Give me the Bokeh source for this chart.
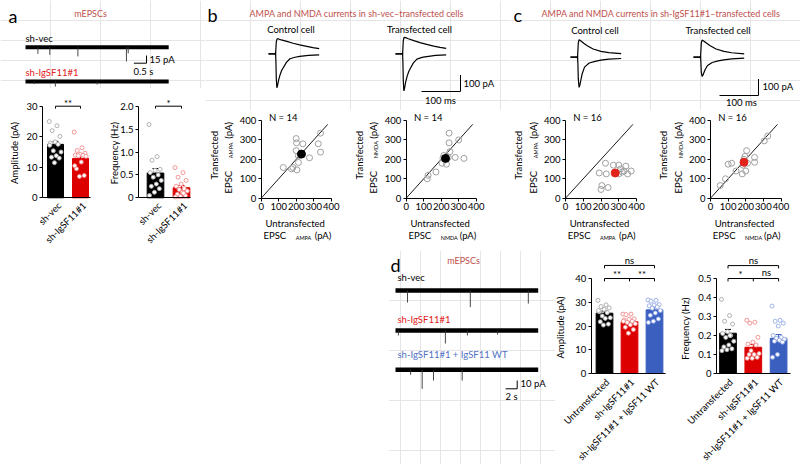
import math
from bokeh.plotting import figure
from bokeh.models import Range1d, Label, FixedTicker, Spacer, PrintfTickFormatter
from bokeh.layouts import row, column
from bokeh.embed import file_html
from bokeh.resources import INLINE

FONT = "Lato"
TITLE_RED = "#c0504d"
LABEL_RED = "#e3201b"
LABEL_BLUE = "#4f72c4"
BAR_COLORS = ["#000000", "#dd0000", "#3a5fbf"]
PT_COLORS = ["#a8a8a8", "#f28b8b", "#94aae6"]
SC_GRAY = "#a0a0a0"

# ======================= DATA =======================
# --- a: example mEPSC traces (event time s, event amplitude pA)
a_trace_len_s = 5.66
a_vec_event_t = [0.49, 0.96, 2.07, 3.99, 4.06]
a_vec_event_pa = [13, 15, 18, 28, 12]
a_sh_event_t = [0.35, 1.18, 2.83]
a_sh_event_pa = [5, 10, 6]
a_scale_s = 0.5
a_scale_pa = 15

# --- a: bar charts
a_groups = ["sh-vec", "sh-IgSF11#1"]
a_amp_mean = [17.5, 12.9]
a_amp_sem = [1.0, 0.9]
a_amp_vec = [25.0, 23.6, 22.0, 20.1, 18.3, 17.9, 17.5, 15.4, 15.0, 13.8, 13.3, 13.0, 11.5, 17.2]
a_amp_sh = [21.5, 16.4, 15.5, 14.6, 14.2, 14.0, 13.9, 13.8, 13.6, 11.7, 9.5, 7.3, 7.0, 10.5]
a_freq_mean = [0.54, 0.22]
a_freq_sem = [0.10, 0.05]
a_freq_vec = [1.6, 0.9, 0.82, 0.62, 0.6, 0.55, 0.5, 0.45, 0.38, 0.3, 0.25, 0.2, 0.12, 0.05]
a_freq_sh = [0.66, 0.55, 0.45, 0.38, 0.3, 0.25, 0.2, 0.18, 0.15, 0.12, 0.08, 0.05, 0.03, 0.02, 0.1]

# --- b/c: example EPSC traces (time ms, current pA)
ampa_t_b = [-18, -0.5, 0, 1, 2, 3.5, 5, 8, 12, 16, 21, 28, 37, 50, 62, 85, 112]
bC_ampa = [0, 0, 8, -40, -150, -206, -195, -160, -125, -100, -80, -52, -30, -21, -16, -10, -6]
bT_ampa = [0, 0, 8, -45, -165, -225, -212, -172, -135, -107, -85, -55, -32, -22, -17, -10, -6]
nmda_t_b = [-18, -0.5, 0, 1, 2, 4, 8, 15, 29, 45, 62, 80, 96, 112]
bC_nmda = [0, 0, -8, 30, 72, 91, 90, 84, 75, 64, 54, 45, 37, 31]
bT_nmda = [0, 0, -8, 33, 80, 100, 98, 91, 80, 68, 57, 47, 39, 33]
ampa_t_c = [-18, -0.5, 0, 1, 2, 4, 6, 12, 18, 30, 45, 60, 80, 112]
cC_ampa = [0, 0, 8, -40, -130, -183, -170, -100, -60, -35, -25, -18, -12, -8]
cT_ampa = [0, 0, 8, -30, -90, -116, -110, -75, -50, -32, -22, -16, -10, -6]
nmda_t_c = [-18, -0.5, 0, 1, 2, 4, 8, 16, 25, 40, 60, 80, 112]
cC_nmda = [0, 0, -8, 40, 85, 106, 100, 85, 70, 50, 35, 28, 22]
cT_nmda = [0, 0, -8, 40, 85, 104, 98, 84, 70, 50, 35, 27, 20]
epsc_scale_ms = 100
epsc_scale_pa = 100

# --- b/c: scatter (untransfected vs transfected, pA)
sc_ticks = [0, 100, 200, 300, 400]
b_ampa_x = [200, 202, 238, 339, 326, 339, 200, 276, 213, 213, 126, 173, 181, 204]
b_ampa_y = [307, 285, 280, 335, 280, 237, 245, 208, 184, 218, 158, 151, 158, 146]
b_ampa_mean = [230, 227]
b_ampa_sem = [14, 14]
b_nmda_x = [120, 125, 170, 205, 210, 215, 230, 240, 250, 245, 245, 280, 300, 330]
b_nmda_y = [100, 118, 135, 180, 205, 220, 175, 210, 240, 285, 335, 210, 300, 205]
b_nmda_mean = [225, 205]
b_nmda_sem = [14, 14]
c_ampa_x = [190, 200, 205, 225, 230, 240, 270, 280, 300, 310, 330, 340, 350, 370, 300, 320]
c_ampa_y = [130, 45, 65, 180, 125, 55, 170, 130, 170, 150, 140, 165, 125, 140, 125, 135]
c_ampa_mean = [280, 130]
c_ampa_sem = [12, 10]
c_nmda_x = [55, 85, 100, 120, 145, 180, 185, 190, 195, 200, 205, 210, 250, 250, 305, 325]
c_nmda_y = [65, 100, 175, 180, 140, 125, 170, 200, 215, 140, 245, 180, 210, 185, 295, 320]
c_nmda_mean = [190, 185]
c_nmda_sem = [12, 12]

# --- d: example traces
d_trace_len_s = 24.6
d_vec_event_t = [2.07, 12.9, 22.9]
d_vec_event_pa = [14.5, 20, 15.7]
d_sh_event_t = [0.5, 8.6, 12.4, 17.6]
d_sh_event_pa = [6, 15.7, 6, 5]
d_wt_event_t = [2.6, 4.6, 6.55, 11.5]
d_wt_event_pa = [6, 23, 13, 13]
d_scale_s = 2
d_scale_pa = 10

# --- d: bar charts
d_groups = ["Untransfected", "sh-IgSF11#1", "sh-IgSF11#1 + IgSF11 WT"]
d_amp_mean = [25.4, 21.8, 26.8]
d_amp_sem = [0.9, 0.6, 0.9]
d_amp_un = [30.8, 28.9, 28.2, 27.6, 27.0, 26.0, 25.6, 24.2, 23.5, 23.2, 21.8, 20.8, 20.4, 26.5]
d_amp_sh = [25.0, 25.0, 24.8, 23.0, 22.8, 22.5, 22.0, 21.5, 21.0, 20.5, 19.5, 18.5, 17.0, 22.0]
d_amp_wt = [31.0, 30.8, 30.5, 29.0, 28.8, 28.5, 28.0, 27.5, 26.5, 25.5, 24.5, 23.0, 22.0, 21.5]
d_freq_mean = [0.212, 0.138, 0.185]
d_freq_sem = [0.02, 0.015, 0.02]
d_freq_un = [0.39, 0.305, 0.275, 0.26, 0.22, 0.21, 0.2, 0.19, 0.17, 0.15, 0.14, 0.13, 0.125, 0.12, 0.2]
d_freq_sh = [0.28, 0.27, 0.265, 0.19, 0.165, 0.155, 0.15, 0.12, 0.105, 0.1, 0.1, 0.085, 0.08, 0.08]
d_freq_wt = [0.355, 0.28, 0.275, 0.265, 0.25, 0.2, 0.19, 0.185, 0.18, 0.175, 0.17, 0.165, 0.1, 0.085]


# ======================= HELPERS =======================
def base_fig(width, height, xr, yr, **kw):
    p = figure(width=width, height=height, x_range=xr, y_range=yr,
               toolbar_location=None, output_backend="svg", **kw)
    p.outline_line_color = None
    p.background_fill_color = "white"
    p.border_fill_color = "white"
    return p


def canvas(x0, x1, y0, y1):
    return base_fig(x1 - x0, y1 - y0, Range1d(x0, x1), Range1d(y1, y0),
                    x_axis_location=None, y_axis_location=None, min_border=0)


def chart(X0, X1, Y0, Y1, xpx, xval, xppu, ypx, yval, yppu):
    """Figure covering picture box [X0,X1]x[Y0,Y1]; data xval sits at picture x xpx, etc."""
    xr = Range1d(xval + (X0 - xpx) / xppu, xval + (X1 - xpx) / xppu)
    yr = Range1d(yval - (Y1 - ypx) / yppu, yval + (ypx - Y0) / yppu)
    p = base_fig(X1 - X0, Y1 - Y0, xr, yr, min_border=0)
    p.grid.visible = False

    def P(ix, iy):
        return xval + (ix - xpx) / xppu, yval + (ypx - iy) / yppu
    return p, P


def style_axes(p):
    for ax in p.axis:
        ax.axis_line_color = "black"
        ax.axis_line_width = 1
        ax.major_tick_line_color = "black"
        ax.major_tick_in = 0
        ax.major_tick_out = 3
        ax.minor_tick_line_color = None
        ax.major_label_text_font = FONT
        ax.major_label_text_font_size = "9.5px"
        ax.major_label_text_color = "black"
        ax.major_label_standoff = 2


def lab(p, x, y, text, size="9.5px", color="black", align="left", baseline="middle", angle=0.0):
    p.add_layout(Label(x=x, y=y, text=text, text_font=FONT, text_font_size=size,
                       text_color=color, text_align=align, text_baseline=baseline, angle=angle))


def labp(p, P, ix, iy, text, **kw):
    x, y = P(ix, iy)
    lab(p, x, y, text, **kw)


def add_xr(p, name, origin, px_per_unit):
    r = p.x_range
    p.extra_x_ranges = {**p.extra_x_ranges,
                        name: Range1d((r.start - origin) / px_per_unit, (r.end - origin) / px_per_unit)}


def add_yr(p, name, origin, px_per_unit):
    r = p.y_range
    p.extra_y_ranges = {**p.extra_y_ranges,
                        name: Range1d((origin - r.start) / px_per_unit, (origin - r.end) / px_per_unit)}


def mepsc(p, xr, yr, dur, ev_t, ev_a, band):
    p.line([0, dur], [0, 0], line_width=band, color="black", x_range_name=xr, y_range_name=yr)
    p.segment(x0=ev_t, y0=[0] * len(ev_t), x1=ev_t, y1=[-a for a in ev_a],
              line_width=0.9, color="#333333", x_range_name=xr, y_range_name=yr)


def scalebar(p, xr, yr, tlen, ilen):
    p.line([-tlen, 0, 0], [0, 0, ilen], color="black", line_width=1,
           x_range_name=xr, y_range_name=yr)


def bar_panel(box, bar1_px, xppu, axis_px, xend_px, zero_px, yppu, yticks, ytop,
              means, sems, pts, bw, ylabel, ylabel_img, groups, cat_off, fmt=False):
    X0, X1, Y0, Y1 = box
    p, P = chart(X0, X1, Y0, Y1, bar1_px, 1, xppu, zero_px, 0, yppu)
    style_axes(p)
    xa = P(axis_px, 0)[0]
    xe = P(xend_px, 0)[0]
    p.xaxis.fixed_location = 0
    p.xaxis.bounds = (xa, xe)
    p.xaxis.ticker = FixedTicker(ticks=[])
    p.yaxis.fixed_location = xa
    p.yaxis.bounds = (0, ytop)
    p.yaxis.ticker = FixedTicker(ticks=yticks)
    if fmt:
        p.yaxis.formatter = PrintfTickFormatter(format="%.1f")
        p.yaxis.major_label_overrides = {0: "0"}
    n = len(means)
    xs = list(range(1, n + 1))
    cols = BAR_COLORS[:n]
    p.vbar(x=xs, top=means, width=bw, fill_color=cols, line_color=cols)
    tops = [m + s for m, s in zip(means, sems)]
    capw = bw * 0.18
    p.segment(x0=xs, y0=means, x1=xs, y1=tops, color=cols, line_width=1)
    p.segment(x0=[x - capw for x in xs], y0=tops, x1=[x + capw for x in xs], y1=tops,
              color=cols, line_width=1)
    for i, vals in enumerate(pts):
        offs = [((k * 0.618034) % 1.0 - 0.5) * bw * 0.78 for k in range(len(vals))]
        p.scatter([xs[i] + o for o in offs], vals, size=4, fill_color="white",
                  line_color=PT_COLORS[i], line_width=0.9)
    labp(p, P, ylabel_img[0], ylabel_img[1], ylabel, align="center", angle=math.pi / 2)
    for i, g in enumerate(groups):
        cx = bar1_px + i * xppu
        labp(p, P, cx + cat_off[0], zero_px + cat_off[1], g, align="right", angle=math.pi / 4)
    return p, P


def bracket(p, x1, x2, y, hook, mids=()):
    p.line([x1, x1, x2, x2], [y - hook, y, y, y - hook], color="black", line_width=1)
    for m in mids:
        p.line([m, m], [y, y - hook], color="black", line_width=1)


def scatter_panel(box, ax_px, xs, ys, mean_xy, sem_xy, mcol, n_text, sub, W=70.0, ay_px=197.7, H=77.7):
    X0, X1, Y0, Y1 = box
    p, P = chart(X0, X1, Y0, Y1, ax_px, 0, W / 400.0, ay_px, 0, H / 400.0)
    style_axes(p)
    p.xaxis.fixed_location = 0
    p.yaxis.fixed_location = 0
    p.xaxis.bounds = (0, 400)
    p.yaxis.bounds = (0, 400)
    p.xaxis.ticker = FixedTicker(ticks=sc_ticks)
    p.yaxis.ticker = FixedTicker(ticks=sc_ticks)
    p.line([0, 380], [0, 380], color="black", line_width=0.9)
    p.scatter(xs, ys, size=6, fill_color=None, line_color=SC_GRAY, line_width=1)
    mx, my = mean_xy
    ex, ey = sem_xy
    p.segment([mx - ex, mx], [my, my - ey], [mx + ex, mx], [my, my + ey], color=mcol, line_width=1.5)
    p.scatter([mx], [my], size=8, color=mcol)
    ax, ay = ax_px, ay_px
    labp(p, P, ax + 22, ay - 81, n_text, align="center")
    labp(p, P, ax - 47, ay - 43, "Transfected", align="center", angle=math.pi / 2)
    labp(p, P, ax - 32.5, ay - 4.7, "EPSC", angle=math.pi / 2)
    labp(p, P, ax - 30, ay - 40, sub, size="5.5px", angle=math.pi / 2)
    labp(p, P, ax - 32.5, ay - 59.5, "(pA)", angle=math.pi / 2)
    labp(p, P, ax + 34, ay + 25, "Untransfected", align="center")
    labp(p, P, ax + 2.3, ay + 37.5, "EPSC")
    labp(p, P, ax + 34.5, ay + 39.5, sub, size="5.5px")
    labp(p, P, ax + 53.5, ay + 37.5, "(pA)")
    return p


# ======================= PANEL a =======================
pa = canvas(0, 205, 0, 88)
lab(pa, 8, 15, "a", size="18px")
lab(pa, 90, 13, "mEPSCs", size="9px", color=TITLE_RED, align="center")
lab(pa, 25, 38, "sh-vec")
lab(pa, 25, 72, "sh-IgSF11#1", color=LABEL_RED)
lab(pa, 149, 59, "15 pA")
lab(pa, 133, 71, "0.5 s")
add_xr(pa, "t", 25, 25.3)
add_yr(pa, "i1", 46.7, 0.51)
add_yr(pa, "i2", 81, 0.51)
add_xr(pa, "sx", 146, 25.3)
add_yr(pa, "sy", 62.7, 0.51)
mepsc(pa, "t", "i1", a_trace_len_s, a_vec_event_t, a_vec_event_pa, 4)
mepsc(pa, "t", "i2", a_trace_len_s, a_sh_event_t, a_sh_event_pa, 4)
scalebar(pa, "sx", "sy", a_scale_s, a_scale_pa)

a_amp, Pa1 = bar_panel((0, 105, 88, 250), 55, 25, 42, 90, 197.3, 3.053, [0, 10, 20, 30], 30,
                       a_amp_mean, a_amp_sem, [a_amp_vec, a_amp_sh], 0.64,
                       "Amplitude (pA)", (13.5, 152.5), a_groups, (4, 6))
bracket(a_amp, 1, 2, 30, 0.8)
labp(a_amp, Pa1, 67.5, 103, "**", align="center")

a_freq, Pa2 = bar_panel((105, 205, 88, 250), 155, 26, 138, 190, 197.3, 45.8, [0, 0.5, 1.0, 1.5, 2.0], 2.0,
                        a_freq_mean, a_freq_sem, [a_freq_vec, a_freq_sh], 0.64,
                        "Frequency (Hz)", (113.5, 152.5), a_groups, (4, 6), fmt=True)
bracket(a_freq, 1, 2, 2.0, 0.052)
labp(a_freq, Pa2, 168, 103, "*", align="center")

# ======================= PANEL b =======================
pb = canvas(205, 510, 0, 110)
lab(pb, 207, 14, "b", size="18px")
lab(pb, 249, 13, "AMPA and NMDA currents in sh-vec\u2013transfected cells", size="9px", color=TITLE_RED)
lab(pb, 290.5, 29, "Control cell", align="center")
lab(pb, 419, 29, "Transfected cell", align="center")
add_xr(pb, "tc", 275, 0.39)
add_yr(pb, "ic", 53.3, 0.165)
add_xr(pb, "tt", 402, 0.39)
add_yr(pb, "it", 53.3, 0.165)
add_xr(pb, "sx", 460, 0.39)
add_yr(pb, "sy", 91, 0.165)
for t, i, xr_, yr_ in [(ampa_t_b, bC_ampa, "tc", "ic"), (nmda_t_b, bC_nmda, "tc", "ic"),
                       (ampa_t_b, bT_ampa, "tt", "it"), (nmda_t_b, bT_nmda, "tt", "it")]:
    pb.line(t, i, color="black", line_width=1.2, x_range_name=xr_, y_range_name=yr_)
scalebar(pb, "sx", "sy", epsc_scale_ms, epsc_scale_pa)
lab(pb, 463, 83, "100 pA")
lab(pb, 440, 100, "100 ms", align="center")

b1 = scatter_panel((205, 355, 110, 250), 260.7, b_ampa_x, b_ampa_y, b_ampa_mean, b_ampa_sem, "black", "N = 14", "AMPA")
b2 = scatter_panel((355, 510, 110, 250), 405.7, b_nmda_x, b_nmda_y, b_nmda_mean, b_nmda_sem, "black", "N = 14", "NMDA")

# ======================= PANEL c =======================
pc = canvas(510, 800, 0, 110)
lab(pc, 513, 14, "c", size="18px")
lab(pc, 541, 13, "AMPA and NMDA currents in sh-IgSF11#1\u2013transfected cells", size="9px", color=TITLE_RED)
lab(pc, 594.5, 30, "Control cell", align="center")
lab(pc, 717.5, 30, "Transfected cell", align="center")
add_xr(pc, "tc", 577, 0.39)
add_yr(pc, "ic", 56.7, 0.165)
add_xr(pc, "tt", 700, 0.39)
add_yr(pc, "it", 56.7, 0.165)
add_xr(pc, "sx", 758, 0.39)
add_yr(pc, "sy", 95, 0.165)
for t, i, xr_, yr_ in [(ampa_t_c, cC_ampa, "tc", "ic"), (nmda_t_c, cC_nmda, "tc", "ic"),
                       (ampa_t_c, cT_ampa, "tt", "it"), (nmda_t_c, cT_nmda, "tt", "it")]:
    pc.line(t, i, color="black", line_width=1.2, x_range_name=xr_, y_range_name=yr_)
scalebar(pc, "sx", "sy", epsc_scale_ms, epsc_scale_pa)
lab(pc, 762, 86, "100 pA")
lab(pc, 741, 102, "100 ms", align="center")

c1 = scatter_panel((510, 650, 110, 250), 565, c_ampa_x, c_ampa_y, c_ampa_mean, c_ampa_sem, "#e0231b", "N = 16", "AMPA", W=71.0)
c2 = scatter_panel((650, 800, 110, 250), 710, c_nmda_x, c_nmda_y, c_nmda_mean, c_nmda_sem, "#e0231b", "N = 16", "NMDA", W=70.5)

# ======================= PANEL d =======================
pd_ = canvas(388, 555, 250, 464)
lab(pd_, 390, 264, "d", size="18px")
lab(pd_, 463, 260, "mEPSCs", size="9px", color=TITLE_RED, align="center")
lab(pd_, 397, 277, "sh-vec")
lab(pd_, 397, 319, "sh-IgSF11#1", color=LABEL_RED)
lab(pd_, 397, 354, "sh-IgSF11#1 + IgSF11 WT", color=LABEL_BLUE)
add_xr(pd_, "t", 395, 5.8)
add_yr(pd_, "i1", 290, 0.83)
add_yr(pd_, "i2", 330, 0.83)
add_yr(pd_, "i3", 369.3, 0.83)
add_xr(pd_, "sx", 516.7, 5.8)
add_yr(pd_, "sy", 388.3, 0.83)
mepsc(pd_, "t", "i1", d_trace_len_s, d_vec_event_t, d_vec_event_pa, 4.5)
mepsc(pd_, "t", "i2", d_trace_len_s, d_sh_event_t, d_sh_event_pa, 4.5)
mepsc(pd_, "t", "i3", d_trace_len_s, d_wt_event_t, d_wt_event_pa, 4.5)
scalebar(pd_, "sx", "sy", d_scale_s, d_scale_pa)
lab(pd_, 520, 383, "10 pA")
lab(pd_, 511, 396, "2 s", align="center")

d_amp, Pd1 = bar_panel((555, 680, 250, 464), 604, 25, 590.7, 665, 373, 2.375, [0, 10, 20, 30, 40], 40,
                       d_amp_mean, d_amp_sem, [d_amp_un, d_amp_sh, d_amp_wt], 0.67,
                       "Amplitude (pA)", (560, 327), d_groups, (3, 7))
bracket(d_amp, 1, 3, 40, 1.2, mids=[2])
bracket(d_amp, 1, 3, 45.5, 1.2)
labp(d_amp, Pd1, 616.5, 274, "**", align="center")
labp(d_amp, Pd1, 641.5, 274, "**", align="center")
labp(d_amp, Pd1, 629, 260, "ns", align="center")

d_freq, Pd2 = bar_panel((680, 800, 250, 464), 727.5, 25.3, 716, 790, 373, 190.0, [0, 0.1, 0.2, 0.3, 0.4, 0.5], 0.5,
                        d_freq_mean, d_freq_sem, [d_freq_un, d_freq_sh, d_freq_wt], 0.66,
                        "Frequency (Hz)", (685, 328), d_groups, (3, 7), fmt=True)
bracket(d_freq, 1, 3, 0.5, 0.015, mids=[2])
bracket(d_freq, 1, 3, 0.568, 0.015)
labp(d_freq, Pd2, 740, 274, "*", align="center")
labp(d_freq, Pd2, 766, 271.7, "ns", align="center")
labp(d_freq, Pd2, 753, 260, "ns", align="center")

# ======================= LAYOUT =======================
col_a = column(pa, row(a_amp, a_freq))
col_b = column(pb, row(b1, b2))
col_c = column(pc, row(c1, c2))
row1 = row(col_a, col_b, col_c)
row2 = row(Spacer(width=388, height=214), pd_, d_amp, d_freq)
layout = column(row1, row2)

with open("out.html", "w") as f:
    f.write(file_html(layout, INLINE, title="IgSF11 mEPSC figure"))
